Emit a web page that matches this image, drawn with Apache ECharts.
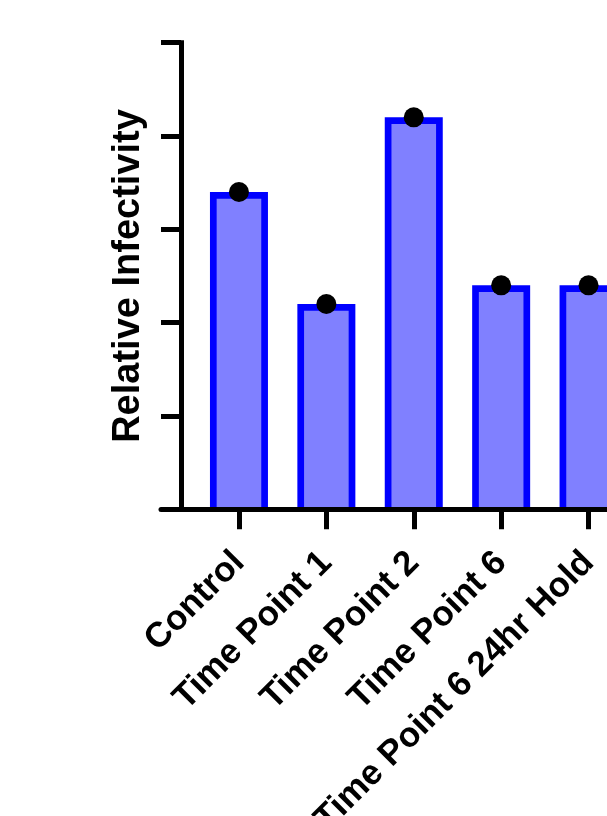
<!DOCTYPE html>
<html>
<head>
<meta charset="utf-8">
<script src="https://cdn.jsdelivr.net/npm/echarts@6/dist/echarts.min.js"></script>
<style>html,body{margin:0;padding:0;background:#fff}#c{width:607px;height:816px}</style>
</head>
<body>
<div id="c"></div>
<script>
const categories = ['Control', 'Time Point 1', 'Time Point 2', 'Time Point 6', 'Time Point 6 24hr Hold'];
const relativeInfectivity = [3.4, 2.2, 4.2, 2.4, 2.4];
const yTicks = [0, 1, 2, 3, 4, 5];
const categoryIndex = categories.map((c, i) => i);

const FONT = 'Arial, "Liberation Sans", Helvetica, sans-serif';
const chart = echarts.init(document.getElementById('c'), null, { renderer: 'canvas' });

const option = {
  animation: false,
  grid: { left: 161, right: 0, top: 42.7, bottom: 306.7, containLabel: false, outerBoundsMode: 'none' },
  xAxis: {
    type: 'value',
    min: -0.892,
    max: 4.211,
    z: 5,
    splitLine: { show: false },
    axisLine: { onZero: false, lineStyle: { color: '#000', width: 5 } },
    axisTick: { customValues: categoryIndex, length: 20, lineStyle: { color: '#000', width: 5 } },
    axisLabel: {
      customValues: categoryIndex,
      formatter: v => categories[Math.round(v)] || '',
      rotate: 45,
      margin: 48,
      color: '#000',
      fontFamily: FONT,
      fontWeight: 'bold',
      fontSize: 35
    }
  },
  yAxis: {
    type: 'value',
    min: yTicks[0],
    max: yTicks[yTicks.length - 1],
    interval: 1,
    offset: -20,
    name: 'Relative Infectivity',
    nameLocation: 'middle',
    nameGap: 33,
    nameTextStyle: { color: '#000', fontFamily: FONT, fontWeight: 'bold', fontSize: 38 },
    splitLine: { show: false },
    axisLine: { onZero: false, lineStyle: { color: '#000', width: 5, cap: 'square' } },
    axisTick: { length: 20, lineStyle: { color: '#000', width: 5 } },
    axisLabel: { show: false }
  },
  series: [
    {
      type: 'custom',
      z: 2,
      data: relativeInfectivity.map((v, i) => [i, v]),
      renderItem: (params, api) => {
        const i = api.value(0), v = api.value(1);
        const top = api.coord([i, v]);
        const base = api.coord([i, 0]);
        const w = 58, b = 6.7;
        return {
          type: 'group',
          children: [
            { type: 'rect', shape: { x: top[0] - w / 2, y: top[1], width: w, height: base[1] - top[1] }, style: { fill: '#0000ff' } },
            { type: 'rect', shape: { x: top[0] - w / 2 + b, y: top[1] + b, width: w - 2 * b, height: base[1] - top[1] - b }, style: { fill: '#8080ff' } }
          ]
        };
      }
    },
    {
      type: 'scatter',
      z: 3,
      symbol: 'circle',
      symbolSize: 20,
      itemStyle: { color: '#000', opacity: 1 },
      data: relativeInfectivity.map((v, i) => [i, v])
    }
  ]
};
chart.setOption(option);
</script>
</body>
</html>
